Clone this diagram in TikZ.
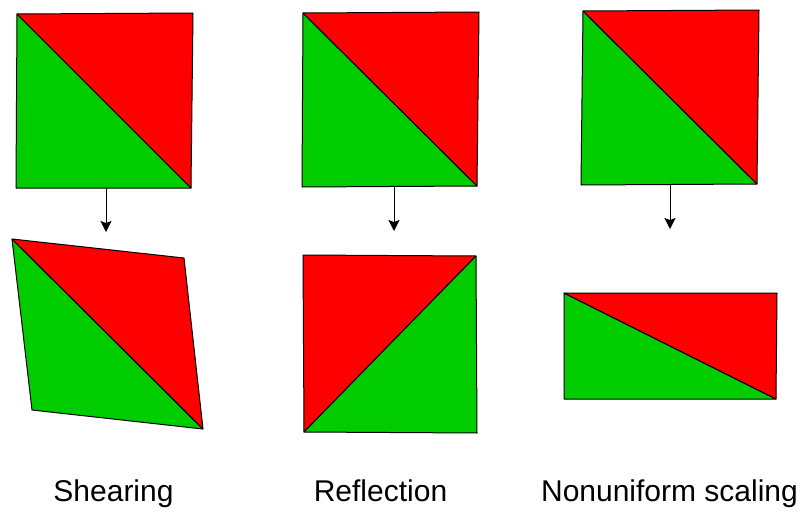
\documentclass[tikz,border=0pt]{standalone}
\usepackage{fontspec}
\setmainfont{Liberation Sans}
\usetikzlibrary{arrows.meta}
\definecolor{trired}{HTML}{FF0000}
\definecolor{trigreen}{HTML}{00CC00}
\tikzset{
  redpart/.style={fill=trired, draw=black, line width=1pt, line join=round},
  greenpart/.style={fill=trigreen, draw=black, line width=1pt, line join=round},
  maparrow/.style={-{Stealth[length=11pt,width=11pt,inset=2pt]}, line width=1pt},
  caption/.style={anchor=base, font=\fontsize{30}{36}\selectfont}
}

\begin{document}
\begin{tikzpicture}[x=1pt, y=-1pt]
  \useasboundingbox (0,0) rectangle (812,514);

  % Shearing
  \coordinate (sa) at (17,14);  \coordinate (sb) at (193,13);
  \coordinate (sc) at (191,188); \coordinate (sd) at (16,188);
  \fill[greenpart] (sa) -- (sc) -- (sd) -- cycle;
  \fill[redpart] (sa) -- (sb) -- (sc) -- cycle;
  \coordinate (sha) at (12,239);  \coordinate (shb) at (184,258);
  \coordinate (shc) at (203,429); \coordinate (shd) at (32,410);
  \fill[greenpart] (sha) -- (shc) -- (shd) -- cycle;
  \fill[redpart] (sha) -- (shb) -- (shc) -- cycle;
  \coordinate (sfrom) at (106,188); \coordinate (sto) at (106,232);
  \draw[maparrow] (sfrom) -- (sto);
  \node[caption] (shearing) at (113.5,501) {Shearing};

  % Reflection
  \coordinate (ra) at (303,13);  \coordinate (rb) at (479,12);
  \coordinate (rc) at (477,186); \coordinate (rd) at (302,187);
  \fill[greenpart] (ra) -- (rc) -- (rd) -- cycle;
  \fill[redpart] (ra) -- (rb) -- (rc) -- cycle;
  \coordinate (rfa) at (303,255);  \coordinate (rfb) at (476,256);
  \coordinate (rfc) at (477,433); \coordinate (rfd) at (304,432);
  \fill[redpart] (rfa) -- (rfb) -- (rfd) -- cycle;
  \fill[greenpart] (rfb) -- (rfc) -- (rfd) -- cycle;
  \coordinate (rfrom) at (394,187); \coordinate (rto) at (394,231);
  \draw[maparrow] (rfrom) -- (rto);
  \node[caption] (reflection) at (380.5,501) {Reflection};

  % Nonuniform scaling
  \coordinate (na) at (583,11);  \coordinate (nb) at (759,10);
  \coordinate (nc) at (757,184); \coordinate (nd) at (581,185);
  \fill[greenpart] (na) -- (nc) -- (nd) -- cycle;
  \fill[redpart] (na) -- (nb) -- (nc) -- cycle;
  \coordinate (nsa) at (564,293);  \coordinate (nsb) at (777,293);
  \coordinate (nsc) at (776,399); \coordinate (nsd) at (564,399);
  \fill[greenpart] (nsa) -- (nsc) -- (nsd) -- cycle;
  \fill[redpart] (nsa) -- (nsb) -- (nsc) -- cycle;
  \coordinate (nfrom) at (670,185); \coordinate (nto) at (670,229);
  \draw[maparrow] (nfrom) -- (nto);
  \node[caption] (nonuniform) at (669.5,501) {Nonuniform scaling};
\end{tikzpicture}
\end{document}
